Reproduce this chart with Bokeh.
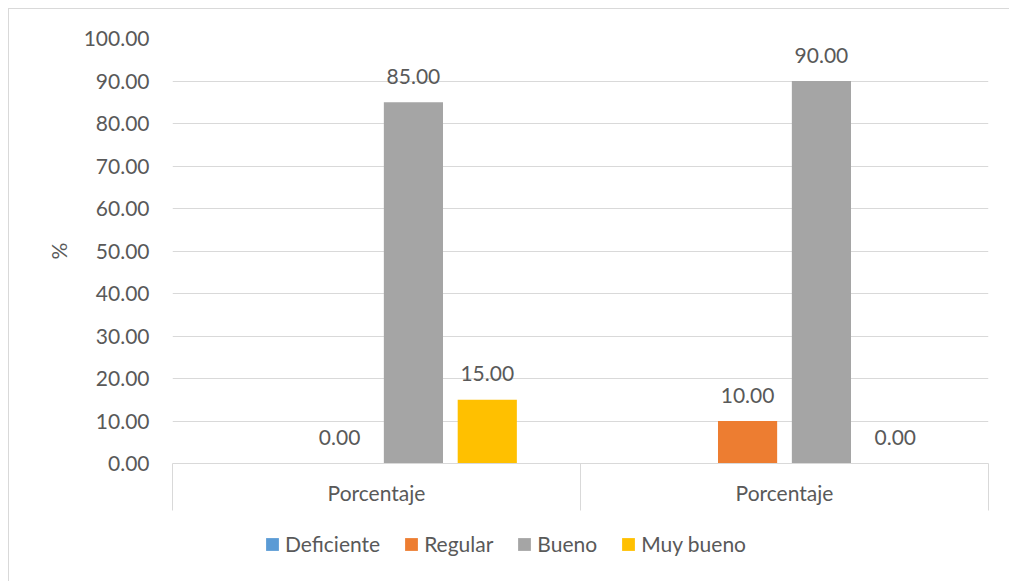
import math
from bokeh.plotting import figure
from bokeh.layouts import column
from bokeh.models import (ColumnDataSource, Range1d, FixedTicker, PrintfTickFormatter,
                          Legend, LegendItem, CustomJSTickFormatter)
from bokeh.core.properties import value
from bokeh.embed import file_html
from bokeh.resources import INLINE

# ---- data ----
groups = ["Porcentaje", "Porcentaje"]
series = ["Deficiente", "Regular", "Bueno", "Muy bueno"]
deficiente = [None, None]
regular = [0.00, 10.00]
bueno = [85.00, 90.00]
muy_bueno = [15.00, 0.00]
y_ticks = [0, 10, 20, 30, 40, 50, 60, 70, 80, 90, 100]

colors = ["#5b9bd5", "#ed7d31", "#a5a5a5", "#ffc000"]
FONT = "Lato"
TEXT = "#595959"
GRID = "#d9d9d9"
FS = "21px"

data = [deficiente, regular, bueno, muy_bueno]

p = figure(frame_width=816, frame_height=425, output_backend="svg", toolbar_location=None,
           x_range=Range1d(0, len(groups)), y_range=Range1d(0, 100),
           min_border_left=163, min_border_right=21, min_border_top=29,
           min_border_bottom=62)
p.outline_line_color = None
p.background_fill_color = "white"
p.border_fill_color = "white"

step = 0.181
bw = 0.145
for j, (name, vals, col) in enumerate(zip(series, data, colors)):
    xs = [i + 0.5 + (j - 1.5) * step for i in range(len(groups))]
    tops = [float("nan") if v is None else v for v in vals]
    src = ColumnDataSource(dict(x=xs, top=tops))
    p.vbar(x="x", top="top", bottom=0, width=bw, source=src,
           fill_color=col, line_color=None)
    lx = [x for x, v in zip(xs, vals) if v is not None]
    ly = [v for v in vals if v is not None]
    lt = ["%.2f" % v for v in vals if v is not None]
    if lx:
        p.text(x=lx, y=ly, text=lt, text_align="center", text_baseline="middle",
               y_offset=-26, text_font=value(FONT), text_font_size=FS,
               text_color=TEXT)

# y axis
p.yaxis.ticker = FixedTicker(ticks=y_ticks)
p.yaxis.formatter = PrintfTickFormatter(format="%.2f")
p.yaxis.axis_line_color = None
p.yaxis.major_tick_line_color = None
p.yaxis.minor_tick_line_color = None
p.yaxis.major_tick_out = 0
p.yaxis.major_label_standoff = 23
p.yaxis.major_label_text_font = FONT
p.yaxis.major_label_text_font_size = FS
p.yaxis.major_label_text_color = TEXT
p.yaxis.axis_label = "%"
p.yaxis.axis_label_text_font = FONT
p.yaxis.axis_label_text_font_size = FS
p.yaxis.axis_label_text_font_style = "normal"
p.yaxis.axis_label_text_color = TEXT
p.yaxis.axis_label_standoff = 10

# x axis
p.xaxis.ticker = FixedTicker(ticks=[i + 0.5 for i in range(len(groups))],
                             minor_ticks=list(range(len(groups) + 1)))
p.xaxis.formatter = CustomJSTickFormatter(args=dict(labels=groups),
                                          code="return labels[Math.floor(tick)];")
p.xaxis.axis_line_color = GRID
p.xaxis.axis_line_width = 1
p.xaxis.major_tick_line_color = None
p.xaxis.major_tick_out = 0
p.xaxis.major_tick_in = 0
p.xaxis.minor_tick_line_color = GRID
p.xaxis.minor_tick_out = 47
p.xaxis.minor_tick_in = 0
p.xaxis.major_label_standoff = -31
p.xaxis.major_label_text_font = FONT
p.xaxis.major_label_text_font_size = FS
p.xaxis.major_label_text_color = TEXT

p.xgrid.grid_line_color = None
p.ygrid.ticker = FixedTicker(ticks=y_ticks)
p.ygrid.grid_line_color = GRID
p.ygrid.grid_line_width = 1

# legend strip (frame aligned with the chart's frame by the column layout)
lf = figure(width=1000, height=56, output_backend="svg", toolbar_location=None,
            x_range=Range1d(0, 1), y_range=Range1d(0, 1),
            min_border_left=0, min_border_right=0, min_border_top=0, min_border_bottom=0)
lf.axis.visible = False
lf.grid.visible = False
lf.outline_line_color = None
items = []
for name, col in zip(series, colors):
    # zero-height swatch carrier: only its fill colour is shown, in the legend
    r = lf.vbar(x=[0.5], top=[0], bottom=[0], width=0.1, fill_color=col, line_color=None)
    items.append(LegendItem(label=name, renderers=[r]))
legend = Legend(items=items, orientation="horizontal", location=(92, 25),
                border_line_color=None, background_fill_alpha=0,
                glyph_width=16, glyph_height=16, label_standoff=5, spacing=23,
                label_text_font=FONT, label_text_font_size=FS,
                label_text_color=TEXT, padding=0, margin=0)
lf.add_layout(legend, "center")

layout = column(p, lf, spacing=0)
layout.styles = {"margin-left": "8px", "margin-top": "8px",
                 "border-top": "1px solid #d9d9d9", "border-left": "1px solid #d9d9d9"}

open("out.html", "w").write(file_html(layout, INLINE))
